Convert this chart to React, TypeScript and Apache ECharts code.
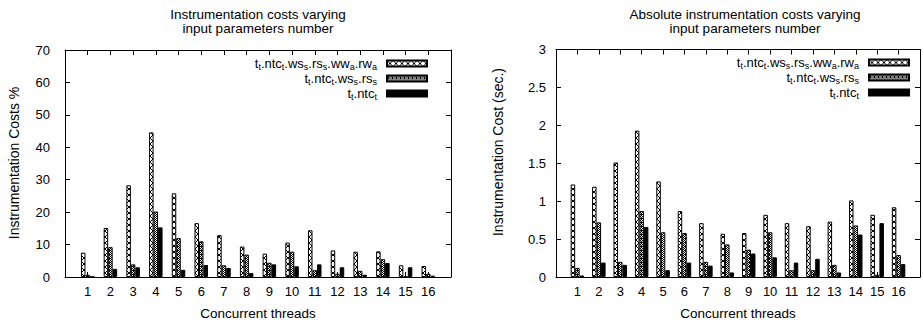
import React, { useEffect, useRef } from 'react';
import * as echarts from 'echarts';

const threads = [1, 2, 3, 4, 5, 6, 7, 8, 9, 10, 11, 12, 13, 14, 15, 16];
const seriesNames = ['t_t.ntc_t.ws_s.rs_s.ww_a.rw_a', 't_t.ntc_t.ws_s.rs_s', 't_t.ntc_t'];

// Left chart: Instrumentation Costs %
const pctFull = [7.5, 15.1, 28.3, 44.6, 25.8, 16.6, 12.9, 9.4, 7.2, 10.6, 14.4, 8.2, 7.8, 7.9, 3.6, 3.4];
const pctMid = [0.7, 9.2, 3.9, 20.2, 12.0, 11.0, 3.6, 6.9, 4.4, 7.8, 2.1, 1.0, 1.9, 5.5, 0.2, 1.0];
const pctBase = [0.1, 2.5, 3.0, 15.3, 2.2, 3.7, 2.8, 1.2, 3.9, 3.3, 3.9, 3.0, 0.7, 4.3, 3.0, 0.4];

// Right chart: Instrumentation Cost (sec.)
const secFull = [1.22, 1.19, 1.51, 1.93, 1.26, 0.87, 0.71, 0.57, 0.58, 0.82, 0.71, 0.67, 0.73, 1.01, 0.82, 0.92];
const secMid = [0.12, 0.72, 0.2, 0.87, 0.59, 0.58, 0.2, 0.43, 0.36, 0.59, 0.09, 0.09, 0.16, 0.68, 0.03, 0.29];
const secBase = [0.02, 0.19, 0.16, 0.66, 0.09, 0.19, 0.15, 0.06, 0.31, 0.26, 0.19, 0.24, 0.06, 0.56, 0.71, 0.17];

const leftTitle = 'Instrumentation costs varying\ninput parameters number';
const rightTitle = 'Absolute instrumentation costs varying\ninput parameters number';
const leftYName = 'Instrumentation Costs %';
const rightYName = 'Instrumentation Cost (sec.)';
const xName = 'Concurrent threads';

const FONT = '"Liberation Sans", Arial, Helvetica, sans-serif';

function makePattern(size: number, fn: (x: number, y: number) => boolean) {
  const c = document.createElement('canvas');
  c.width = size;
  c.height = size;
  const ctx = c.getContext('2d')!;
  const img = ctx.createImageData(size, size);
  for (let y = 0; y < size; y++) {
    for (let x = 0; x < size; x++) {
      const i = (y * size + x) * 4;
      const v = fn(x, y) ? 0 : 255;
      img.data[i] = v;
      img.data[i + 1] = v;
      img.data[i + 2] = v;
      img.data[i + 3] = 255;
    }
  }
  ctx.putImageData(img, 0, 0);
  return c;
}

function legendFormatter(name: string) {
  return name.replace(/_([a-z])/g, '{sub|$1}');
}

export default function App() {
  const ref = useRef<HTMLDivElement>(null);
  useEffect(() => {
    if (!ref.current) return;
    const chart = echarts.init(ref.current, undefined, { renderer: 'svg' });

    const p1 = makePattern(6, (x, y) => (x - y + 6) % 6 === 0 || (x + y) % 6 === 5);
    const p2 = makePattern(4, (x, y) => (x + y) % 2 === 0 || (x === 1 && y === 2));
    const fills: any[] = [
      { image: p1, repeat: 'repeat' },
      { image: p2, repeat: 'repeat' },
      '#000',
    ];

    const mkBar = (idx: number, vals: number[], axis: number) => ({
      type: 'bar',
      name: seriesNames[idx],
      xAxisIndex: axis,
      yAxisIndex: axis,
      data: threads.map((t, i) => [t, vals[i]]),
      barWidth: 4.5,
      barGap: '0%',
      silent: true,
      itemStyle: { color: fills[idx], borderColor: '#000', borderWidth: 1 },
    });

    const axisLine = { show: true, onZero: false, lineStyle: { color: '#000', width: 1 } };
    const tickStyle = { show: true, inside: true, length: 5, lineStyle: { color: '#000', width: 1 } };
    const labelStyle = { color: '#000', fontSize: 13, fontFamily: FONT };

    const mkX = (grid: number, pos: 'bottom' | 'top') => ({
      type: 'value',
      gridIndex: grid,
      position: pos,
      min: 0,
      max: 17,
      interval: 1,
      axisLine,
      axisTick: tickStyle,
      splitLine: { show: false },
      axisLabel:
        pos === 'bottom'
          ? {
              ...labelStyle,
              margin: 8,
              formatter: (v: number) => (v >= 1 && v <= 16 ? String(v) : ''),
            }
          : { show: false },
      name: pos === 'bottom' ? xName : '',
      nameLocation: 'middle',
      nameGap: 29,
      nameTextStyle: { color: '#000', fontSize: 13.5, fontFamily: FONT },
    });

    const mkY = (grid: number, pos: 'left' | 'right', max: number, interval: number, margin: number) => ({
      type: 'value',
      gridIndex: grid,
      position: pos,
      min: 0,
      max,
      interval,
      axisLine,
      axisTick: tickStyle,
      splitLine: { show: false },
      axisLabel: pos === 'left' ? { ...labelStyle, margin } : { show: false },
    });

    const legendBase = {
      data: seriesNames,
      orient: 'vertical',
      align: 'right',
      icon: 'rect',
      itemWidth: 40,
      itemHeight: 6,
      itemGap: 0,
      selectedMode: false,
      formatter: legendFormatter,
      textStyle: {
        color: '#000',
        fontSize: 13,
        fontFamily: FONT,
        lineHeight: 15,
        padding: [0, 5, 0, 0],
        rich: {
          sub: { fontSize: 9, fontFamily: FONT, color: '#000', lineHeight: 9, verticalAlign: 'bottom' },
        },
      },
    };

    const titleText = (text: string, x: number) => ({
      type: 'text',
      x,
      y: 7.5,
      silent: true,
      style: {
        text,
        textAlign: 'center',
        textVerticalAlign: 'top',
        fontSize: 13.5,
        fontFamily: FONT,
        lineHeight: 14,
        fill: '#000',
      },
    });
    const yNameText = (text: string, x: number, y: number) => ({
      type: 'text',
      x,
      y,
      rotation: Math.PI / 2,
      silent: true,
      style: {
        text,
        textAlign: 'center',
        textVerticalAlign: 'middle',
        fontSize: 14,
        fontFamily: FONT,
        fill: '#000',
      },
    });

    chart.setOption({
      animation: false,
      backgroundColor: '#fff',
      textStyle: { fontFamily: FONT },
      grid: [
        { left: 65, top: 50, width: 386, height: 227 },
        { left: 556, top: 49.5, width: 379, height: 227.5 },
      ],
      xAxis: [mkX(0, 'bottom'), mkX(1, 'bottom'), mkX(0, 'top'), mkX(1, 'top')],
      yAxis: [mkY(0, 'left', 70, 10, 15), mkY(1, 'left', 3, 0.5, 10), mkY(0, 'right', 70, 10, 0), mkY(1, 'right', 3, 0.5, 0)],
      legend: [
        { ...legendBase, right: 490, top: 51 },
        { ...legendBase, right: 8, top: 50 },
      ],
      graphic: [
        titleText(leftTitle, 258),
        titleText(rightTitle, 745),
        yNameText(leftYName, 14, 163),
        yNameText(rightYName, 498, 152),
      ],
      series: [
        mkBar(0, pctFull, 0),
        mkBar(1, pctMid, 0),
        mkBar(2, pctBase, 0),
        mkBar(0, secFull, 1),
        mkBar(1, secMid, 1),
        mkBar(2, secBase, 1),
      ],
    });
    return () => chart.dispose();
  }, []);
  return (
    <div
      ref={ref}
      style={{ position: 'absolute', left: 0, top: 0, width: 923, height: 327, background: '#fff' }}
    />
  );
}
